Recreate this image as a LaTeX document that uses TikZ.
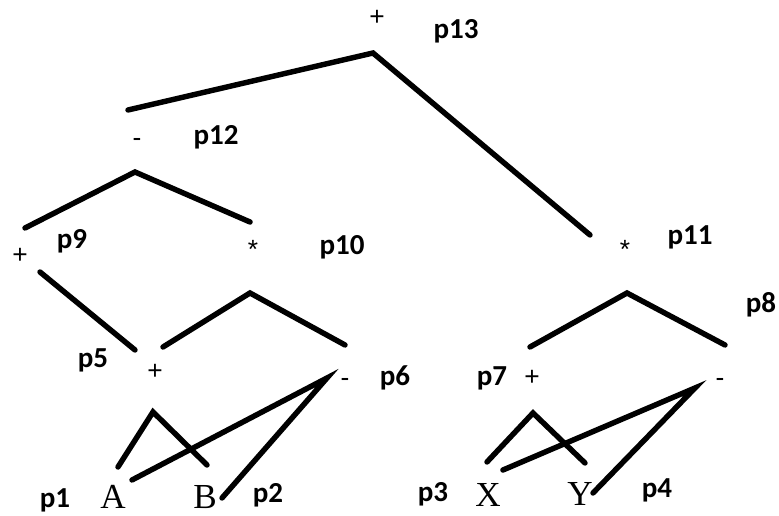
\documentclass[tikz,border=0pt]{standalone}
\usepackage{fontspec}
\setmainfont{Liberation Serif}
\newfontfamily\plabelfont{Carlito}
\newfontfamily\opfont{Liberation Sans}

\begin{document}
\begin{tikzpicture}[x=0.02cm,y=-0.02cm,
  plabel/.style={font=\plabelfont\bfseries\fontsize{16.5}{16.5}\selectfont, inner sep=0pt},
  opsym/.style={font=\opfont\fontsize{15}{15}\selectfont, inner sep=0pt},
  leaf/.style={font=\fontsize{20}{20}\selectfont, inner sep=0pt},
  branch/.style={line width=3.1pt, line cap=round, line join=miter}]
  \useasboundingbox (0,0) rectangle (779,516);
  % operators
  \node[opsym] (op13) at (377,18)  {+};
  \node[opsym] (op12) at (137,142) {-};
  \node[opsym] (op9)  at (20,256)  {+};
  \node[opsym] (op10) at (253,249) {*};
  \node[opsym] (op11) at (625,249) {*};
  \node[opsym] (op5)  at (155,372) {+};
  \node[opsym] (op6)  at (345,382) {-};
  \node[opsym] (op7)  at (532,378) {+};
  \node[opsym] (op8)  at (720,382) {-};
  % leaves
  \node[leaf] (a) at (113,497) {A};
  \node[leaf] (b) at (205,497) {B};
  \node[leaf] (x) at (488,495) {X};
  \node[leaf] (y) at (580,494) {Y};
  % names
  \node[plabel] (p13) at (456,31)  {p13};
  \node[plabel] (p12) at (216,137) {p12};
  \node[plabel] (p9)  at (72,241)  {p9};
  \node[plabel] (p10) at (342,247) {p10};
  \node[plabel] (p11) at (690,237) {p11};
  \node[plabel] (p8)  at (761,305) {p8};
  \node[plabel] (p5)  at (93,360)  {p5};
  \node[plabel] (p6)  at (395,378) {p6};
  \node[plabel] (p7)  at (492,378) {p7};
  \node[plabel] (p1)  at (55,500)  {p1};
  \node[plabel] (p2)  at (268,495) {p2};
  \node[plabel] (p3)  at (433,494) {p3};
  \node[plabel] (p4)  at (657,490) {p4};
  % branch ends
  \coordinate (t13l) at (128,110); \coordinate (t13) at (373,53);  \coordinate (t13r) at (590,235);
  \coordinate (t12l) at (25,228);  \coordinate (t12) at (135,172); \coordinate (t12r) at (250,222);
  \coordinate (t9a)  at (40,272);  \coordinate (t9b)  at (135,350);
  \coordinate (t10l) at (163,347); \coordinate (t10) at (250,293); \coordinate (t10r) at (345,345);
  \coordinate (t11l) at (530,347); \coordinate (t11) at (627,293); \coordinate (t11r) at (725,345);
  \coordinate (t5l)  at (118,467); \coordinate (t5)  at (153,412); \coordinate (t5r)  at (207,465);
  \coordinate (t6l)  at (132,480); \coordinate (t6)  at (327,378); \coordinate (t6r)  at (222,498);
  \coordinate (t7l)  at (487,462); \coordinate (t7)  at (533,413); \coordinate (t7r)  at (585,463);
  \coordinate (t8l)  at (503,470); \coordinate (t8)  at (695,388); \coordinate (t8r)  at (593,493);
  % branches
  \draw[branch] (t13l) -- (t13) -- (t13r);
  \draw[branch] (t12l) -- (t12) -- (t12r);
  \draw[branch] (t9a) -- (t9b);
  \draw[branch] (t10l) -- (t10) -- (t10r);
  \draw[branch] (t11l) -- (t11) -- (t11r);
  \draw[branch] (t5l) -- (t5) -- (t5r);
  \draw[branch] (t6l) -- (t6) -- (t6r);
  \draw[branch] (t7l) -- (t7) -- (t7r);
  \draw[branch] (t8l) -- (t8) -- (t8r);
\end{tikzpicture}
\end{document}
